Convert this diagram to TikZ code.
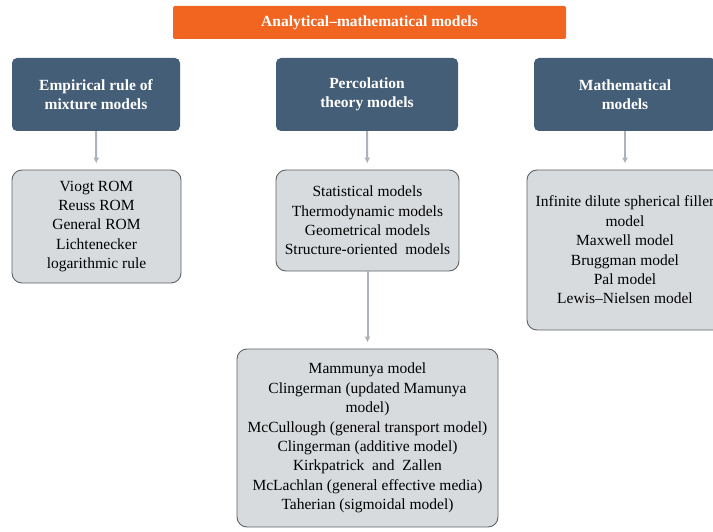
\documentclass[tikz,border=0pt]{standalone}
\usepackage{fontspec}
\setmainfont{Liberation Serif}
\usetikzlibrary{arrows.meta,positioning}
\definecolor{topbar}{RGB}{241,101,33}
\definecolor{slate}{RGB}{67,94,118}
\definecolor{panel}{RGB}{216,219,222}
\definecolor{edge}{RGB}{95,98,102}
\definecolor{link}{RGB}{172,179,186}
\tikzset{
  txt/.style={font=\fontsize{15.5}{19.4}\selectfont, align=center},
  titlebox/.style={rectangle, rounded corners=2pt, fill=topbar, text=white,
                   txt, font=\fontsize{15.5}{19.4}\selectfont\bfseries,
                   minimum width=393pt, minimum height=33pt},
  head/.style={rectangle, rounded corners=5pt, fill=slate, text=white,
               txt, font=\fontsize{15.5}{19.4}\selectfont\bfseries,
               minimum height=73pt},
  listbox/.style={rectangle, rounded corners=10pt, draw=edge, line width=0.9pt,
                  fill=panel, txt, inner sep=0pt},
  ar/.style={-{Latex[length=6pt,width=6pt]}, draw=link, line width=2pt,
             shorten >=6pt},
}

\begin{document}
\begin{tikzpicture}[x=1pt,y=-1pt]
\useasboundingbox (0,0) rectangle (713,532);

% ================= top bar =================
\node[titlebox] (top) at (369.5,22.5) {Analytical--mathematical models};

% ================= three model families =================
\node[head, minimum width=168pt] (emp) at (96,94.5)
  {Empirical rule of\\mixture models};
\node[head, minimum width=182pt] (perc) at (367,94.5)
  {Percolation\\theory models};
\node[head, minimum width=182pt] (math) at (625,94.5)
  {Mathematical\\models};

% ================= lists under each family =================
\node[listbox, minimum width=169pt, minimum height=113pt] (empl) at (96.5,226.5)
  {Viogt ROM\\Reuss ROM\\General ROM\\Lichtenecker\\logarithmic rule};
\node[listbox, minimum width=183pt, minimum height=101pt] (percl) at (367.5,220.5)
  {Statistical models\\Thermodynamic models\\Geometrical models\\Structure-oriented~ models};
\node[listbox, minimum width=196pt, minimum height=160pt] (mathl) at (625,250)
  {Infinite dilute spherical filler\\model\\Maxwell model\\Bruggman model\\Pal model\\Lewis--Nielsen model};

% percolation models, in detail
\node[listbox, minimum width=261pt, minimum height=178pt] (det) at (367.5,438)
  {Mammunya model\\Clingerman (updated Mamunya\\model)\\McCullough (general transport model)\\
   Clingerman (additive model)\\Kirkpatrick~ and~ Zallen\\McLachlan (general effective media)\\
   Taherian (sigmoidal model)};

\foreach \a/\b in {emp/empl, perc/percl, math/mathl, percl/det} {\draw[ar] (\a) -- (\b);}

\end{tikzpicture}
\end{document}
